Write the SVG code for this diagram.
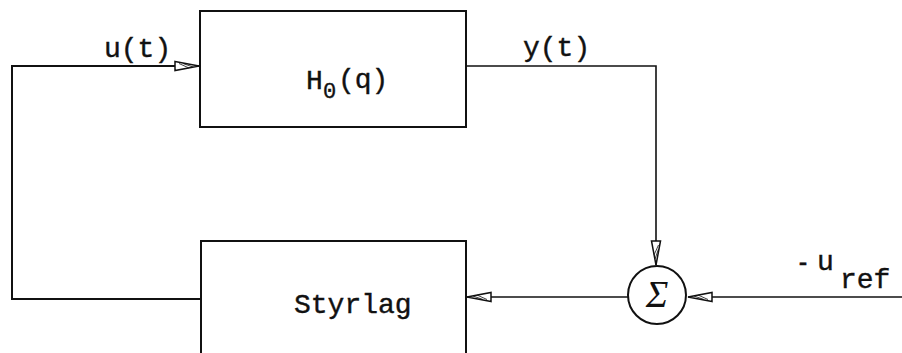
<svg xmlns="http://www.w3.org/2000/svg" width="902" height="353" viewBox="0 0 902 353">
<defs>
<style>
.box{fill:none;stroke:#111;stroke-width:2}
.wire{fill:none;stroke:#111;stroke-width:1.6}
.lbl{font-family:"Liberation Mono","Courier New",monospace;font-size:28px;fill:#111;stroke:#111;stroke-width:0.4}
.sub{font-family:"Liberation Mono","Courier New",monospace;font-size:22px;fill:#111;stroke:#111;stroke-width:0.4}
</style>
<marker id="arr" markerUnits="userSpaceOnUse" markerWidth="28" markerHeight="14" refX="25" refY="6" orient="auto" viewBox="0 0 28 14">
<path d="M1,1.5 L25,6 L1,10.5 Z" fill="#fff" stroke="#111" stroke-width="1.5"/>
<path d="M5,3.5 L15,8 M9,3.5 L19,7" stroke="#111" stroke-width="0.8"/>
</marker>
</defs>
<rect width="902" height="353" fill="#fff"/>
<g id="H0">
<rect class="box" x="200" y="11" width="266" height="116"/>
<text class="lbl" x="306" y="89">H</text>
<text class="sub" x="323" y="98">0</text>
<text class="lbl" x="338" y="88">(q)</text>
</g>
<g id="Styrlag">
<path class="box" d="M201,360 V241 H466 V360"/>
<text class="lbl" x="294" y="313">Styrlag</text>
</g>
<g id="sum">
<circle class="box" cx="657" cy="295" r="29"/>
<text x="657" y="307" text-anchor="middle" font-family="Liberation Serif, serif" font-style="italic" font-size="38" fill="#111">Σ</text>
</g>
<g id="connectors">
<path class="wire" style="stroke-width:2" d="M201,299 H12 V66 H199" marker-end="url(#arr)"/>
<path class="wire" d="M466,66 H656 V265" marker-end="url(#arr)"/>
<path class="wire" d="M628,297 H467" marker-end="url(#arr)"/>
<path class="wire" d="M902,297 H688" marker-end="url(#arr)"/>
</g>
<g id="labels">
<text class="lbl" x="104" y="57">u(t)</text>
<text class="lbl" x="523" y="56">y(t)</text>
<text class="lbl" x="796" y="271" textLength="14" lengthAdjust="spacingAndGlyphs">-</text>
<text class="lbl" x="817" y="270">u</text>
<text class="lbl" x="840" y="288">ref</text>
</g>
</svg>
